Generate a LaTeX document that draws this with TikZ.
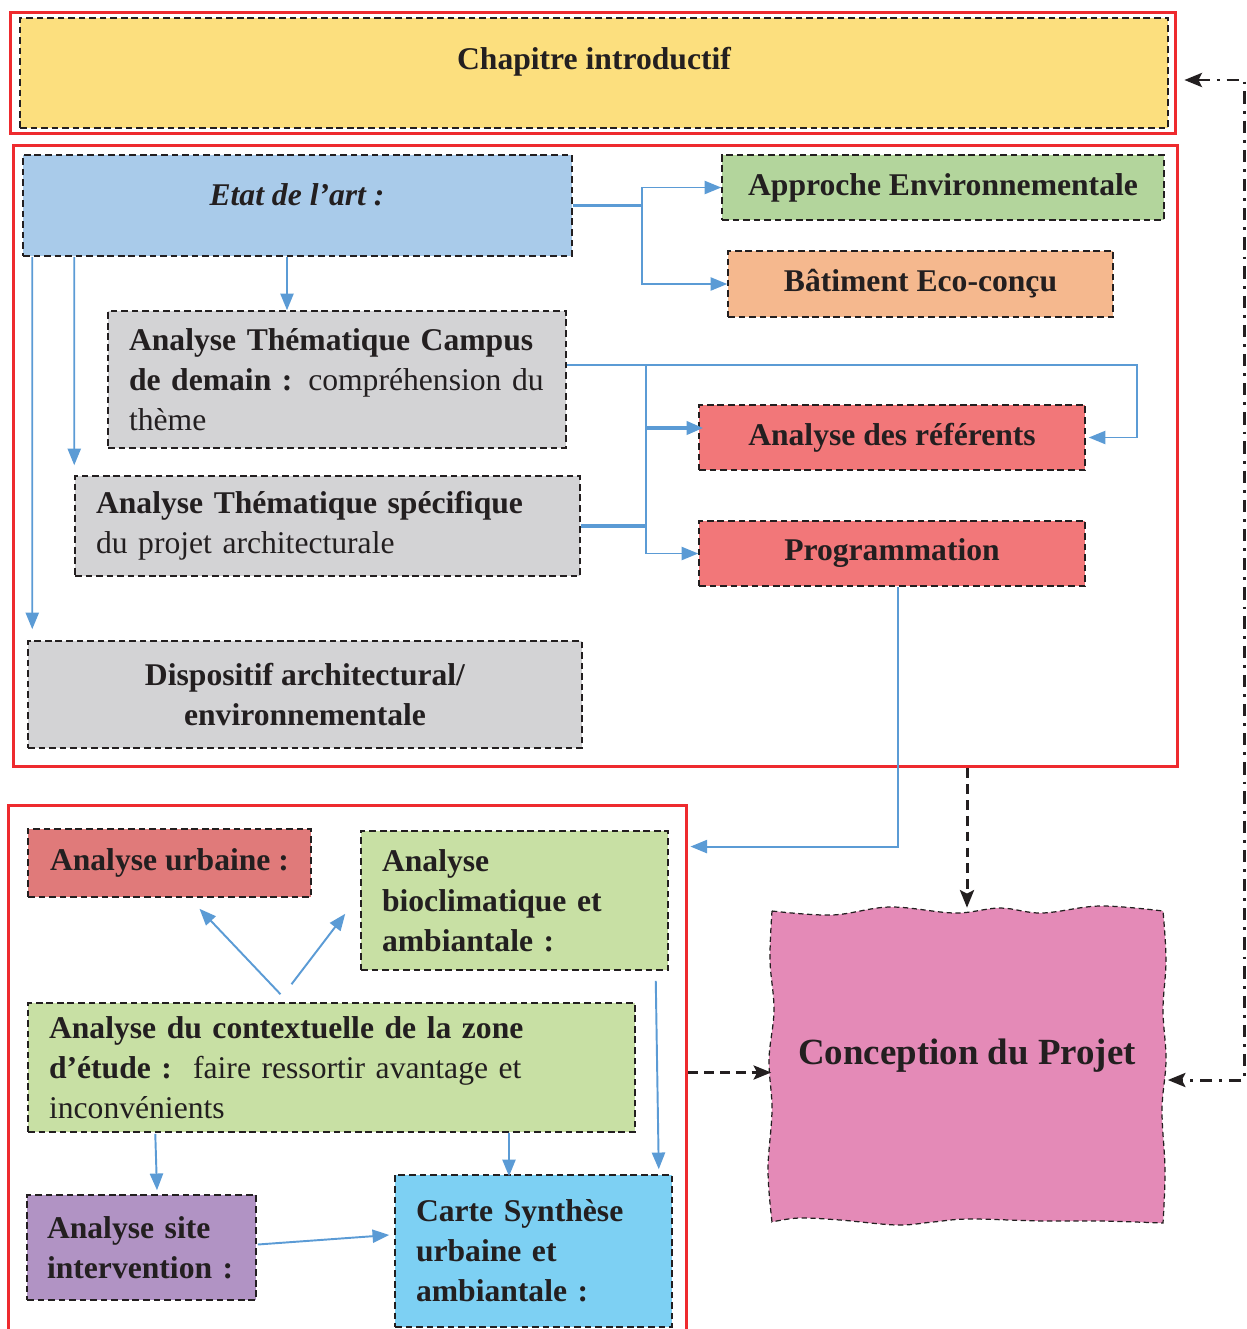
\documentclass[tikz,border=0pt]{standalone}
\usepackage{fontspec}
\setmainfont{Liberation Serif}
\usetikzlibrary{arrows.meta,calc}
\definecolor{txt}{HTML}{231F20}
\definecolor{dkline}{HTML}{231F20}
\definecolor{redc}{HTML}{EE2A2E}
\definecolor{bluel}{HTML}{5B9BD5}
\definecolor{cyel}{HTML}{FCDF7E}
\definecolor{cetat}{HTML}{A9CBEA}
\definecolor{cappr}{HTML}{B3D59C}
\definecolor{cbat}{HTML}{F5B88E}
\definecolor{cgray}{HTML}{D3D3D5}
\definecolor{cref}{HTML}{F27779}
\definecolor{curb}{HTML}{E07A7A}
\definecolor{cgreen}{HTML}{C8E0A4}
\definecolor{csite}{HTML}{B193C4}
\definecolor{ccarte}{HTML}{7DD0F3}
\definecolor{cpink}{HTML}{E48AB7}
\begin{document}
\begin{tikzpicture}[x=0.02cm,y=-0.02cm,
  fnt/.style={font=\fontsize{18}{22.7}\selectfont, text=txt},
  bx/.style={fnt, draw=dkline, dash pattern=on 3.8pt off 2.2pt, line width=0.9pt, inner sep=0pt},
  lbx/.style={bx, align=left, inner xsep=0.42cm, inner ysep=0pt},
  cbx/.style={bx, align=center, font=\fontsize{18}{22.7}\selectfont\bfseries},
  frame/.style={draw=redc, line width=1.7pt, inner sep=0pt},
  btip/.style={-{Triangle[length=9.5pt,width=7.5pt]}},
  blueln/.style={draw=bluel, line width=1.1pt},
  bluethick/.style={draw=bluel, line width=2pt},
  blackdash/.style={draw=dkline, line width=1.7pt, dash pattern=on 5.5pt off 3.5pt, -{Stealth[length=10pt,width=8pt,inset=2pt]}},
  dashdot/.style={draw=dkline, line width=1.7pt, dash pattern=on 7pt off 4pt on 1.6pt off 4pt},
  ktip/.style={{Stealth[length=10pt,width=8pt,inset=2pt]}-{Stealth[length=10pt,width=8pt,inset=2pt]}}
]
\clip (0,0) rectangle (1247,1329);

% frames
\node[frame, minimum width=23.32cm, minimum height=2.44cm] (frame1) at (593,73) {};
\node[frame, minimum width=23.3cm, minimum height=12.44cm] (frame2) at (595.5,456) {};
\node[frame, minimum width=13.58cm, minimum height=10.7cm] (frame3) at (347.5,1072.5) {};

% top
\node[bx, fill=cyel, minimum width=22.96cm, minimum height=2.2cm] (chap) at (594,73) {};
\node[fnt, font=\fontsize{18}{22.7}\selectfont\bfseries] (chapt) at (594,62) {Chapitre introductif};

% frame 2 content
\node[bx, fill=cetat, minimum width=10.98cm, minimum height=2.02cm] (etat) at (297.5,205.5) {};
\node[fnt, font=\fontsize{18}{22.7}\selectfont\bfseries\itshape] (etatt) at (297,195) {Etat de l’art :};
\node[cbx, fill=cappr, minimum width=8.84cm, minimum height=1.3cm] (appr) at (943,187.5) {Approche Environnementale};
\node[cbx, fill=cbat, minimum width=7.7cm, minimum height=1.32cm] (bat) at (920.5,284) {Bâtiment Eco-conçu};
\node[lbx, fill=cgray, minimum width=9.16cm, text width=8.32cm, minimum height=2.74cm] (campus) at (337,379.5)
  {\textbf{Analyse Thématique Campus}\\\textbf{de demain :} compréhension du\\thème};
\node[cbx, fill=cref, minimum width=7.72cm, minimum height=1.3cm] (refs) at (892,437.5) {Analyse des référents};
\node[lbx, fill=cgray, minimum width=10.1cm, text width=9.26cm, minimum height=2cm] (spec) at (327.5,526)
  {\textbf{Analyse Thématique spécifique}\\du projet architecturale};
\node[cbx, fill=cref, minimum width=7.72cm, minimum height=1.3cm] (prog) at (892,553.5) {Programmation};
\node[cbx, fill=cgray, minimum width=11.08cm, minimum height=2.14cm] (disp) at (305,694.5)
  {Dispositif architectural/\\environnementale};

% frame 3 content
\node[cbx, fill=curb, minimum width=5.66cm, minimum height=1.36cm] (urb) at (169.5,863)
  {\raisebox{0.08cm}{Analyse urbaine :}};
\node[lbx, fill=cgreen, minimum width=6.14cm, text width=5.3cm, minimum height=2.78cm] (bio) at (514.5,900.5)
  {\textbf{Analyse}\\\textbf{bioclimatique et}\\\textbf{ambiantale :}};
\node[lbx, fill=cgreen, minimum width=12.14cm, text width=11.3cm, minimum height=2.58cm] (ctx) at (331.5,1067.5)
  {\textbf{Analyse du contextuelle de la zone}\\\textbf{d’étude :}\ \ faire ressortir avantage et\\inconvénients};
\node[lbx, fill=csite, inner xsep=0.4cm, minimum width=4.58cm, text width=3.78cm, minimum height=2.1cm] (site) at (141.5,1247.5)
  {\textbf{Analyse site}\\\textbf{intervention :}};
\node[lbx, fill=ccarte, minimum width=5.54cm, text width=4.7cm, minimum height=3.04cm] (carte) at (533.5,1251)
  {\textbf{Carte Synthèse}\\\textbf{urbaine et}\\\textbf{ambiantale :}};

% conception (wavy)
\filldraw[fill=cpink, draw=dkline, line width=0.7pt, dash pattern=on 3pt off 2pt]
  plot[smooth, tension=0.6] coordinates {(772,911) (832,915) (890,907) (955,913) (1000,908) (1042,913) (1100,906) (1163,911)}
  -- plot[smooth, tension=0.6] coordinates {(1163,911) (1166,960) (1163,1010) (1166,1060) (1162,1110) (1165,1170) (1163,1223)}
  -- plot[smooth, tension=0.6] coordinates {(1163,1223) (1100,1221) (1042,1221) (969,1219) (933,1222) (897,1225) (840,1220) (799,1218) (772,1222)}
  -- plot[smooth, tension=0.6] coordinates {(772,1222) (768,1170) (772,1110) (769,1060) (774,1010) (770,960) (772,911)}
  -- cycle;
\node[minimum width=7.82cm, minimum height=6.24cm, inner sep=0pt] (conc) at (967,1066) {};
\node[fnt, font=\fontsize{21}{25}\selectfont\bfseries] (conct) at (967,1056) {Conception du Projet};

% blue connectors, frame 2
\draw[bluethick] (etat.east) -- ++(69,0) coordinate (j1);
\draw[blueln, btip] (j1) |- (appr.west);
\draw[blueln, btip] (j1) |- (bat.west);
\draw[blueln, btip] ($(etat.south)+(-10.5,0)$) -- ($(campus.north)+(-50,0)$);
\draw[blueln, btip] ($(etat.south west)+(52,0)$) -- ($(spec.north west)+(0,-10)$);
\draw[blueln, btip] ($(etat.south west)+(10,0)$) -- ($(disp.north west)+(5,-11)$);
\draw[blueln, btip] ($(campus.east)+(0,-14.5)$) coordinate (j3a) -- ++(570,0) |- ($(refs.east)+(3,0)$);
\coordinate (j3) at ($(j3a)+(79,0)$);
\draw[bluethick] (spec.east) -- (spec.east -| j3) coordinate (j2);
\draw[blueln] (j3) -- (j2);
\draw[blueln, btip] (j2) |- (prog.west);
\draw[bluethick, btip] ($(j3 |- refs.west)+(0,-9.5)$) -- ($(refs.west)+(5,-9.5)$);
\draw[blueln, btip] ($(prog.south)+(6,0)$) |- ($(frame3.north east)+(2,43)$);

% black connectors
\draw[blackdash] (frame2.south -| conc.north) -- ($(conc.north)+(0,-2)$);
\draw[blackdash] (frame3.east) -- (frame3.east -| conc.west);
\draw[dashdot, ktip] ($(frame1.east)+(7,7)$) -- ++(60,0) |- ($(conc.east)+(5,14)$);

% blue connectors, frame 3
\draw[blueln, btip] ($(ctx.north)+(-51,-8)$) -- ($(urb.south)+(30,11)$);
\draw[blueln, btip] ($(ctx.north)+(-40,-18)$) -- ($(bio.south west)+(-15,-57)$);
\draw[blueln, btip] ($(bio.south east)+(-13,10)$) -- ($(carte.north east)+(-14,-5)$);
\draw[blueln, btip] ($(ctx.south west)+(128,1)$) -- ($(site.north)+(15.5,-4)$);
\draw[blueln, btip] ($(ctx.south)+(177.5,0)$) -- ($(carte.north)+(-24.5,2)$);
\draw[blueln, btip] ($(site.east)+(1,-3)$) -- ($(carte.west)+(-5,-16)$);
\end{tikzpicture}
\end{document}
